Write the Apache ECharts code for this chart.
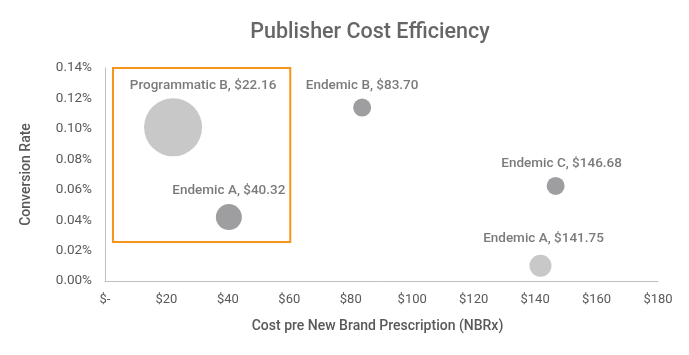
<!DOCTYPE html>
<html>
<head>
<meta charset="utf-8">
<script src="https://cdn.jsdelivr.net/npm/echarts@6/dist/echarts.min.js"></script>
<style>html,body{margin:0;padding:0;background:#fff}#c{width:689px;height:355px}</style>
</head>
<body>
<div id="c"></div>
<script>
const names = ['Programmatic B', 'Endemic A', 'Endemic B', 'Endemic C', 'Endemic A'];
const costs = [22.16, 40.32, 83.70, 146.68, 141.75];
const rates = [0.101, 0.042, 0.114, 0.0625, 0.010];
const bubbleSize = [58, 26, 18, 18, 22];
const shade = ['light', 'dark', 'dark', 'dark', 'light'];
const xTicks = [0, 20, 40, 60, 80, 100, 120, 140, 160, 180];
const yTicks = [0, 0.02, 0.04, 0.06, 0.08, 0.10, 0.12, 0.14];
const highlightX = [2.6, 60.3];
const highlightY = [0.0256, 0.1413];

const colors = { light: '#bababa', dark: '#86868a' };
const labelOffsets = [[30, 0], [0, 0], [0, 0], [6, 0], [3, -3]];

const chart = echarts.init(document.getElementById('c'), null, { renderer: 'canvas' });
const txt = '#595959';
chart.setOption({
  backgroundColor: '#fff',
  animation: false,
  title: {
    text: 'Publisher Cost Efficiency',
    left: 365, top: 17, textAlign: 'center',
    textStyle: { fontFamily: 'Roboto', fontSize: 21.5, fontWeight: 500, color: '#666' }
  },
  grid: { left: 105, right: 31, top: 68, bottom: 74 },
  xAxis: {
    type: 'value', min: xTicks[0], max: xTicks[xTicks.length - 1], interval: 20,
    name: 'Cost pre New Brand Prescription (NBRx)', nameLocation: 'middle', nameGap: 38,
    nameTextStyle: { fontFamily: 'Roboto', fontSize: 14, fontWeight: 500, color: txt, padding: [0, 0, 0, -8] },
    axisLine: { show: true, lineStyle: { color: '#bfbfbf', width: 1 } },
    axisTick: { show: false },
    splitLine: { show: false },
    axisLabel: { fontFamily: 'Roboto', fontSize: 13, color: txt, margin: 12,
      formatter: v => v === 0 ? '$-' : '$' + v }
  },
  yAxis: {
    type: 'value', min: yTicks[0], max: yTicks[yTicks.length - 1], interval: 0.02,
    name: 'Conversion Rate', nameLocation: 'middle', nameGap: 72, nameRotate: 90,
    nameTextStyle: { fontFamily: 'Roboto', fontSize: 14, fontWeight: 500, color: txt },
    axisLine: { show: true, lineStyle: { color: '#bfbfbf', width: 1 } },
    axisTick: { show: false },
    splitLine: { show: false },
    axisLabel: { fontFamily: 'Roboto', fontSize: 13.5, color: txt, margin: 13,
      formatter: v => v.toFixed(2) + '%' }
  },
  series: [{
    type: 'scatter',
    clip: false,
    data: costs.map((c, i) => ({
      value: [c, rates[i]],
      symbolSize: bubbleSize[i],
      itemStyle: { color: colors[shade[i]] },
      label: { offset: labelOffsets[i] }
    })),
    label: {
      show: true, position: 'top', distance: 6,
      fontFamily: 'Roboto', fontSize: 13.5, fontWeight: 500, color: txt,
      formatter: p => names[p.dataIndex] + ', $' + costs[p.dataIndex].toFixed(2)
    },
    markArea: {
      silent: true,
      itemStyle: { color: 'rgba(0,0,0,0)', borderColor: '#f7941d', borderWidth: 2 },
      data: [[{ coord: [highlightX[0], highlightY[1]] }, { coord: [highlightX[1], highlightY[0]] }]]
    }
  }]
});
</script>
</body>
</html>
